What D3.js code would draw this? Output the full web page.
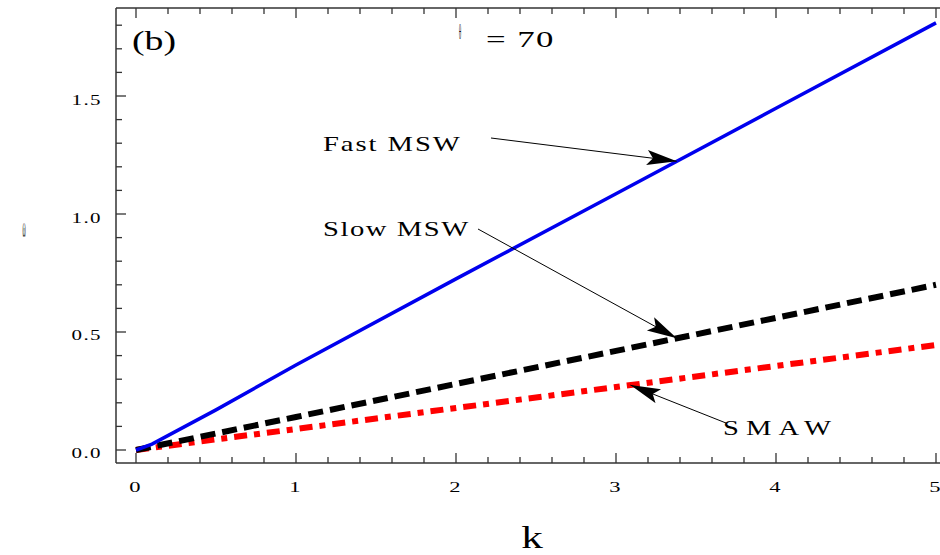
<!DOCTYPE html>
<html>
<head>
<meta charset="utf-8">
<script src="https://cdn.jsdelivr.net/npm/d3@7/dist/d3.min.js"></script>
<style>
  html, body { margin: 0; padding: 0; background: #fff; }
  svg { display: block; }
</style>
</head>
<body>
<svg id="chart" width="940" height="555" font-family="'Liberation Serif', 'DejaVu Serif', 'Times New Roman', serif" fill="#000"></svg>
<script>
// Dispersion branches, frequency versus wavenumber k
const kValues   = [0, 0.1, 0.5, 1, 2, 3, 4, 5];
const fastMSW   = [0, 0.025, 0.17, 0.36, 0.725, 1.086, 1.448, 1.81];
const slowMSW   = [0, 0.014, 0.07, 0.14, 0.28, 0.42, 0.56, 0.70];
const smaw      = [0, 0.009, 0.045, 0.089, 0.178, 0.267, 0.356, 0.445];
const xTicks    = [0, 1, 2, 3, 4, 5];
const yTicks    = [0, 0.5, 1.0, 1.5];
const yTickText = ["0.0", "0.5", "1.0", "1.5"];

const svg = d3.select("#chart");
const plotL = 116, plotR = 940, plotT = 8, plotB = 463;

const x = d3.scaleLinear().domain([-0.125, 5.025]).range([plotL, plotR]);
const y = d3.scaleLinear().domain([-0.0551, 1.8729]).range([plotB, plotT]);

// wide serif text: glyphs stretched horizontally by sx
function label(parent, px, py, str, o) {
  const opts = Object.assign({ size: 16, sx: 1.3, sy: 1, anchor: "start", spacing: 0, rotate: 0 }, o || {});
  return parent.append("text")
    .attr("transform", `translate(${px},${py}) rotate(${opts.rotate}) scale(${opts.sx},${opts.sy})`)
    .attr("font-size", opts.size)
    .attr("text-anchor", opts.anchor)
    .attr("letter-spacing", opts.spacing)
    .text(str);
}

// Frame: left and top lines, bottom axis line
const axisColor = "#333";
svg.append("line").attr("x1", plotL).attr("x2", plotL).attr("y1", plotT).attr("y2", plotB)
  .attr("stroke", axisColor).attr("stroke-width", 1.5);
svg.append("line").attr("x1", plotL).attr("x2", plotR).attr("y1", plotT).attr("y2", plotT)
  .attr("stroke", axisColor).attr("stroke-width", 1.5);
svg.append("line").attr("x1", plotL).attr("x2", plotR).attr("y1", plotB).attr("y2", plotB)
  .attr("stroke", axisColor).attr("stroke-width", 1.5);

// x ticks (bottom and top), majors at integers, minors every 0.2
const xMinor = d3.range(0, 5.001, 0.2).filter(v => Math.abs(v - Math.round(v)) > 1e-6);
const tickG = svg.append("g").attr("stroke", axisColor).attr("stroke-width", 1.3);
xTicks.forEach(v => {
  tickG.append("line").attr("x1", x(v)).attr("x2", x(v)).attr("y1", plotB).attr("y2", plotB - 10);
  tickG.append("line").attr("x1", x(v)).attr("x2", x(v)).attr("y1", plotT).attr("y2", plotT + 10);
});
xMinor.forEach(v => {
  tickG.append("line").attr("x1", x(v)).attr("x2", x(v)).attr("y1", plotB).attr("y2", plotB - 6);
  tickG.append("line").attr("x1", x(v)).attr("x2", x(v)).attr("y1", plotT).attr("y2", plotT + 6);
});
// y ticks, majors every 0.5, minors every 0.1
yTicks.forEach(v => {
  tickG.append("line").attr("x1", plotL).attr("x2", plotL + 10).attr("y1", y(v)).attr("y2", y(v));
});
d3.range(0, 1.86, 0.1).filter(v => Math.abs(v * 2 - Math.round(v * 2)) > 1e-6).forEach(v => {
  tickG.append("line").attr("x1", plotL).attr("x2", plotL + 6).attr("y1", y(v)).attr("y2", y(v));
});

// tick labels
const labels = svg.append("g");
xTicks.forEach(v => label(labels, x(v) - 1, plotB + 29, String(v), { size: 15, sx: 1.5, anchor: "middle" }));
yTicks.forEach((v, i) => label(labels, 102, y(v) + 8.5, yTickText[i], { size: 15, sx: 1.4, anchor: "end", spacing: 1 }));

// axis titles
label(labels, 532, 548, "k", { size: 32, sx: 1.35, anchor: "middle" });
label(labels, 24, 237, "ω", { size: 30, sx: 0.16, anchor: "middle" });

// curves
const defs = svg.append("defs");
defs.append("clipPath").attr("id", "plotClip").append("rect")
  .attr("x", plotL).attr("y", plotT).attr("width", plotR - plotL).attr("height", plotB - plotT);

const line = d3.line().x(d => x(d[0])).y(d => y(d[1]));
const curves = svg.append("g").attr("clip-path", "url(#plotClip)");
curves.append("path").datum(kValues.map((k, i) => [k, smaw[i]]))
  .attr("d", line).attr("fill", "none").attr("stroke", "#f00")
  .attr("stroke-width", 6).attr("stroke-dasharray", "13,7,6,7");
curves.append("path").datum(kValues.map((k, i) => [k, slowMSW[i]]))
  .attr("d", line).attr("fill", "none").attr("stroke", "#000")
  .attr("stroke-width", 6).attr("stroke-dasharray", "15,7");
curves.append("path").datum(kValues.map((k, i) => [k, fastMSW[i]]))
  .attr("d", line).attr("fill", "none").attr("stroke", "#0000ee")
  .attr("stroke-width", 3.5);

// panel labels
label(svg, 132, 50, "(b)", { size: 27, sx: 1.4 });
label(svg, 460, 39, "θ", { size: 22, sx: 0.2, anchor: "middle" });
label(svg, 486, 47, "= 70", { size: 24, sx: 1.45, spacing: 1 });

// annotation labels with arrows
defs.append("marker").attr("id", "arrowHead").attr("viewBox", "0 0 20 10")
  .attr("refX", 20).attr("refY", 5).attr("markerWidth", 32).attr("markerHeight", 15)
  .attr("markerUnits", "userSpaceOnUse").attr("orient", "auto")
  .append("path").attr("d", "M0,0 L20,5 L0,10 L4,5 Z").attr("fill", "#000");

const interp = (arr, k) => {
  const i = d3.bisectRight(kValues, k) - 1;
  const t = (k - kValues[i]) / (kValues[i + 1] - kValues[i]);
  return arr[i] + t * (arr[i + 1] - arr[i]);
};
const annotations = [
  { text: "Fast MSW", tx: 323, ty: 151, sp: 1.5, from: [491, 138], k: 3.38, series: fastMSW },
  { text: "Slow MSW", tx: 323, ty: 236, sp: 1.2, from: [478, 229], k: 3.38, series: slowMSW },
  { text: "SMAW",     tx: 723, ty: 435, sp: 5.5, from: [726, 423], k: 3.09, series: smaw }
];
annotations.forEach(a => {
  label(svg, a.tx, a.ty, a.text, { size: 22, sx: 1.3, spacing: a.sp });
  svg.append("line").attr("x1", a.from[0]).attr("y1", a.from[1])
    .attr("x2", x(a.k)).attr("y2", y(interp(a.series, a.k)))
    .attr("stroke", "#000").attr("stroke-width", 1)
    .attr("marker-end", "url(#arrowHead)");
});
</script>
</body>
</html>
